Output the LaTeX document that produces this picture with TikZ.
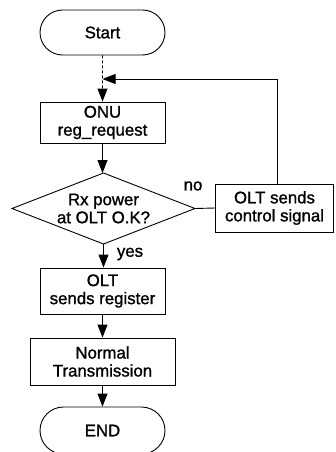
\documentclass[tikz,border=0pt]{standalone}
\usepackage{fontspec}
\setmainfont{Liberation Sans}[FakeBold=1.2]
\usetikzlibrary{shapes.misc,arrows.meta}
\begin{document}
\begin{tikzpicture}[x=1pt,y=1pt,
  every node/.style={font=\fontsize{16.8}{18}\selectfont, align=center, inner sep=0pt},
  term/.style={draw, line width=0.9pt, rounded rectangle, minimum width=125pt, minimum height=45pt},
  proc/.style={draw, line width=0.9pt, rectangle},
  flow/.style={line width=0.9pt, -{Triangle[length=13pt,width=10pt]}},
  plain/.style={line width=0.9pt}]
\useasboundingbox (0,0) rectangle (335,-452);
\node[term] (start) at (102.5,-32.5) {Start};
\node[proc, minimum width=125pt, minimum height=41pt] (onu) at (102.5,-122.5) {ONU\\reg\_request};
\coordinate (dtop) at (103.5,-173);
\coordinate (dbot) at (103.5,-244);
\coordinate (dleft) at (12,-208.5);
\coordinate (dright) at (195,-208.5);
\draw[plain] (dtop) -- (dright) -- (dbot) -- (dleft) -- cycle;
\node (dec) at (103.5,-208.5) {Rx power\\at OLT O.K?};
\node[proc, minimum width=118pt, minimum height=48pt] (ctrl) at (274.5,-208) {OLT sends\\control signal};
\node[proc, minimum width=125pt, minimum height=46pt] (olt) at (102.5,-291) {OLT\\sends register};
\node[proc, minimum width=145pt, minimum height=47pt] (norm) at (102.5,-361.5) {Normal\\Transmission};
\node[term, minimum height=47pt] (end) at (102.5,-430.5) {END};
\coordinate (join) at (102.5,-79);
\coordinate (corner) at (277,-79);
\draw[flow, dashed, dash pattern=on 3pt off 2pt] (start) -- (onu);
\draw[flow] (ctrl.north -| corner) -- (corner) -- (join);
\draw[flow] (onu.south) -- (onu.south |- dtop);
\draw[plain] (dright) -- (ctrl.west);
\draw[flow] (dbot) -- (dbot |- olt.north);
\draw[flow] (olt) -- (norm);
\draw[flow] (norm) -- (end);
\node (no) at (193,-186) {no};
\node (yes) at (130,-254) {yes};
\end{tikzpicture}
\end{document}
